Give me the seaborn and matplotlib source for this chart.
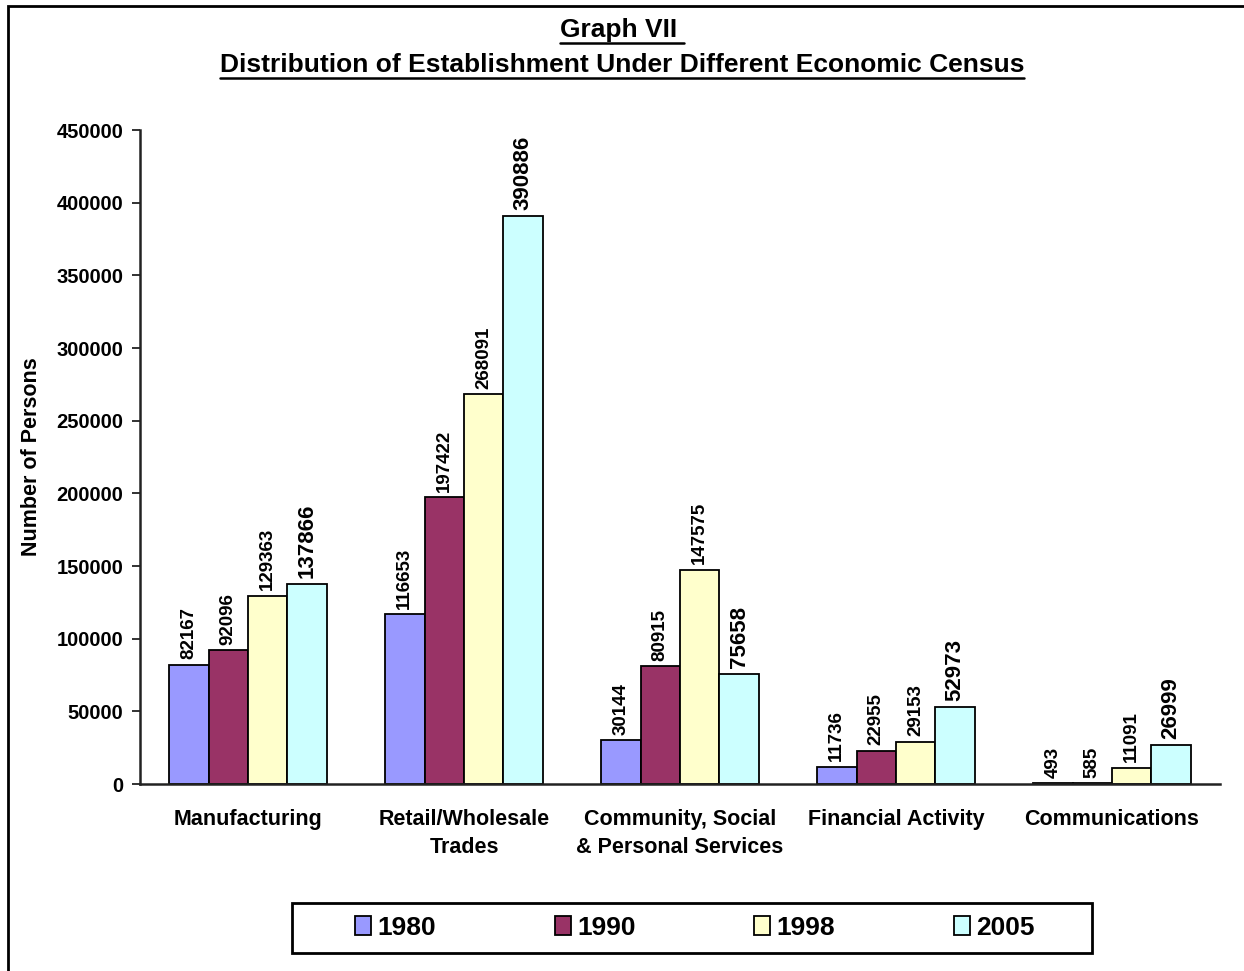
import matplotlib.pyplot as plt
import seaborn as sns
import pandas as pd
from matplotlib.patches import Rectangle
from matplotlib.lines import Line2D

categories = ["Manufacturing", "Retail/Wholesale\nTrades",
              "Community, Social\n& Personal Services",
              "Financial Activity", "Communications"]
years = ["1980", "1990", "1998", "2005"]
v1980 = [82167, 116653, 30144, 11736, 493]
v1990 = [92096, 197422, 80915, 22955, 585]
v1998 = [129363, 268091, 147575, 29153, 11091]
v2005 = [137866, 390886, 75658, 52973, 26999]
colors = ["#9999FF", "#993366", "#FFFFCC", "#CCFFFF"]
y_ticks = list(range(0, 450001, 50000))

rows = []
for year, vals in zip(years, [v1980, v1990, v1998, v2005]):
    for cat, v in zip(categories, vals):
        rows.append({"category": cat, "year": year, "value": v})
df = pd.DataFrame(rows)

sns.set_style("white")
plt.rcParams['font.family'] = ['Liberation Sans', 'DejaVu Sans']
plt.rcParams['text.color'] = 'black'
plt.rcParams['axes.labelcolor'] = 'black'
plt.rcParams['xtick.color'] = 'black'
plt.rcParams['ytick.color'] = 'black'

fig = plt.figure(figsize=(12.44, 9.71), dpi=100)
ax = fig.add_axes([140 / 1244, 1 - 784 / 971, 1080 / 1244, 654 / 971])

sns.barplot(data=df, x="category", y="value", hue="year", palette=colors,
            width=0.73, edgecolor="black", linewidth=1.3, saturation=1,
            legend=False, ax=ax)

for i, cont in enumerate(ax.containers):
    size = 16 if i == 3 else 13.5
    ax.bar_label(cont, labels=[str(int(v)) for v in cont.datavalues], rotation=90,
                 padding=4, fontsize=size, fontweight="bold", color="black")

ax.set_ylim(0, 450000)
ax.set_xlim(-0.5, 4.5)
ax.set_yticks(y_ticks)
ax.set_yticklabels([str(t) for t in y_ticks], fontsize=14.5, fontweight="bold")
ax.set_xticks(range(len(categories)))
ax.set_xticklabels(categories, fontsize=15.5, fontweight="bold", linespacing=1.45)
ax.set_xticks([x - 0.5 for x in range(len(categories) + 1)], minor=True)
ax.tick_params(axis="x", which="major", length=0, pad=18)
ax.tick_params(axis="x", which="minor", length=7, width=1.5, color="#222222", direction="out")
ax.tick_params(axis="y", length=6, width=1.3, color="#222222", direction="out", pad=6, left=True)
ax.set_xlabel("")
ax.set_ylabel("Number of Persons", fontsize=15.5, fontweight="bold", labelpad=10)

sns.despine(ax=ax)
for s in ["left", "bottom"]:
    ax.spines[s].set_linewidth(1.8)
    ax.spines[s].set_color("#222222")

# titles with underline
t1 = fig.text(0.5, 1 - 30 / 971, "Graph VII ", ha="center", va="center",
              fontsize=19, fontweight="bold")
t2 = fig.text(0.5, 1 - 65 / 971, "Distribution of Establishment Under Different Economic Census",
              ha="center", va="center", fontsize=19, fontweight="bold")

# legend
handles = [Rectangle((0, 0), 1, 1, facecolor=c, edgecolor="black", linewidth=1.3) for c in colors]
fig.legend(handles, years, loc="center", bbox_to_anchor=(695 / 1244, 1 - 928 / 971),
           ncol=4, frameon=False, handlelength=0.6, handleheight=0.75,
           handletextpad=0.25, columnspacing=4.5,
           prop={"weight": "bold", "size": 19})
fig.add_artist(Rectangle((292 / 1244, 1 - 953 / 971), 800 / 1244, 50 / 971,
                         transform=fig.transFigure, fill=False,
                         edgecolor="black", linewidth=2))

# outer frame (runs off right and bottom edges)
fig.add_artist(Rectangle((8 / 1244, -0.05), 1.1, 1.05 - 6 / 971,
                         transform=fig.transFigure, fill=False,
                         edgecolor="black", linewidth=2))

fig.canvas.draw()
r = fig.canvas.get_renderer()
for t in (t1, t2):
    bb = t.get_window_extent(r).transformed(fig.transFigure.inverted())
    y = bb.y0 - 1 / 971
    fig.add_artist(Line2D([bb.x0, bb.x1], [y, y], transform=fig.transFigure,
                          color="black", linewidth=1.8))

fig.savefig("out.png", dpi=100)
